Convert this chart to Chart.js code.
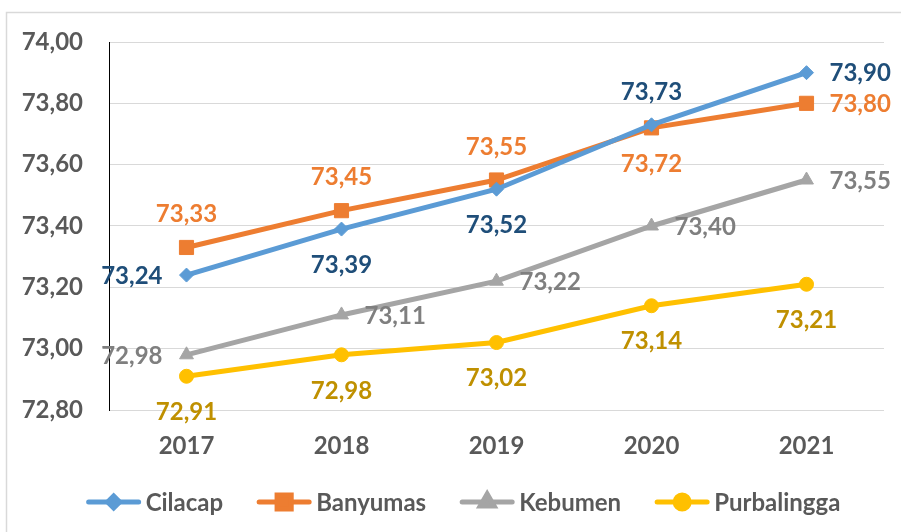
<!DOCTYPE html>
<html lang="en">
<head>
  <meta charset="UTF-8" />
  <title>Chart</title>
  <script src="https://cdn.jsdelivr.net/npm/chart.js@4.4.1/dist/chart.umd.min.js"></script>
  <style>
    body { margin: 0; background: #fff; }
    #wrap { width: 901px; height: 532px; position: relative; }
  </style>
</head>
<body>
  <div id="wrap"><canvas id="lineChart"></canvas></div>

  <script>
    const years = ['2017', '2018', '2019', '2020', '2021'];
    const cilacap = [73.24, 73.39, 73.52, 73.73, 73.90];
    const banyumas = [73.33, 73.45, 73.55, 73.72, 73.80];
    const kebumen = [72.98, 73.11, 73.22, 73.40, 73.55];
    const purbalingga = [72.91, 72.98, 73.02, 73.14, 73.21];
    const yMin = 72.8, yMax = 74.0, yStep = 0.2;

    // where each value label sits relative to its point
    const labelPos = [
      ['l', 'b', 'b', 't', 'r'],
      ['t', 't', 't', 'b', 'r'],
      ['l', 'r', 'r', 'r', 'r'],
      ['b', 'b', 'b', 'b', 'b']
    ];
    const labelColors = ['#1F4E79', '#ED7D31', '#7F7F7F', '#BF9000'];
    const legendRadius = [6, 10, 8, 7];

    const FONT = 'Lato, "Open Sans", sans-serif';
    const fmt = v => Number(v).toFixed(2).replace('.', ',');

    const frame = {
      id: 'frame',
      beforeDraw(chart) {
        const ctx = chart.ctx;
        ctx.save();
        ctx.strokeStyle = '#D9D9D9';
        ctx.lineWidth = 1.5;
        ctx.strokeRect(6.5, 12.5, 1000, 1000);
        ctx.restore();
      }
    };

    const valueLabels = {
      id: 'valueLabels',
      afterDatasetsDraw(chart) {
        const ctx = chart.ctx;
        ctx.save();
        chart.data.datasets.forEach((ds, di) => {
          const meta = chart.getDatasetMeta(di);
          ctx.fillStyle = labelColors[di];
          ctx.font = 'bold 24px ' + FONT;
          ctx.textBaseline = 'middle';
          meta.data.forEach((pt, i) => {
            const pos = labelPos[di][i];
            let x = pt.x, y = pt.y;
            if (pos === 't') { ctx.textAlign = 'center'; y -= 34; }
            if (pos === 'b') { ctx.textAlign = 'center'; y += 35; }
            if (pos === 'l') { ctx.textAlign = 'right'; x -= 24; }
            if (pos === 'r') { ctx.textAlign = 'left'; x += 23; }
            ctx.fillText(fmt(ds.data[i]), x, y + 1);
          });
        });
        ctx.restore();
      }
    };

    // legend drawn by hand: line + marker, then name
    const bottomLegend = {
      id: 'bottomLegend',
      afterDraw(chart) {
        const ctx = chart.ctx;
        const lineLen = 56, gapText = 4, gapItem = 33, cy = 502;
        ctx.save();
        ctx.font = 'bold 24px ' + FONT;
        ctx.textBaseline = 'middle';
        const items = chart.data.datasets.map(ds => ({ ds, w: ctx.measureText(ds.label).width }));
        const total = items.reduce((s, it) => s + lineLen + gapText + it.w, 0) + gapItem * (items.length - 1);
        let x = 463 - total / 2;
        items.forEach((it, k) => {
          const ds = it.ds;
          ctx.strokeStyle = ds.borderColor;
          ctx.lineWidth = 5;
          ctx.lineCap = 'round';
          ctx.beginPath();
          ctx.moveTo(x + 3, cy);
          ctx.lineTo(x + lineLen - 3, cy);
          ctx.stroke();
          ctx.fillStyle = ds.borderColor;
          Chart.helpers.drawPoint(ctx, {
            pointStyle: ds.pointStyle,
            radius: legendRadius[k],
            borderWidth: 1,
            rotation: 0
          }, x + lineLen / 2, cy);
          ctx.fillStyle = '#595959';
          ctx.textAlign = 'left';
          ctx.fillText(ds.label, x + lineLen + gapText, cy + 1);
          x += lineLen + gapText + it.w + gapItem;
        });
        ctx.restore();
      }
    };

    function series(label, data, color, style, radius) {
      return {
        label: label,
        data: data,
        borderColor: color,
        backgroundColor: color,
        borderWidth: 5,
        pointStyle: style,
        pointRadius: radius,
        pointHoverRadius: radius,
        pointBorderWidth: 1,
        pointBackgroundColor: color,
        pointBorderColor: color,
        tension: 0
      };
    }

    new Chart(document.getElementById('lineChart'), {
      type: 'line',
      data: {
        labels: years,
        datasets: [
          series('Cilacap', cilacap, '#5B9BD5', 'rectRot', 7),
          series('Banyumas', banyumas, '#ED7D31', 'rect', 10),
          series('Kebumen', kebumen, '#A5A5A5', 'triangle', 8),
          series('Purbalingga', purbalingga, '#FFC000', 'circle', 7)
        ]
      },
      options: {
        responsive: true,
        maintainAspectRatio: false,
        animation: false,
        layout: { padding: { top: 42, right: 17, left: 0, bottom: 0 } },
        plugins: {
          legend: { display: false },
          tooltip: { enabled: false }
        },
        scales: {
          x: {
            offset: true,
            grid: { display: false, drawTicks: false },
            border: { display: false },
            ticks: {
              color: '#595959',
              font: { family: FONT, size: 24, weight: 'bold' },
              padding: 22
            },
            afterFit(scale) { scale.height = 122; }
          },
          y: {
            min: yMin,
            max: yMax,
            grid: { color: '#D9D9D9', lineWidth: 1, drawTicks: false },
            border: { display: true, color: '#000000', width: 1 },
            ticks: {
              stepSize: yStep,
              color: '#595959',
              font: { family: FONT, size: 24, weight: 'bold' },
              padding: 26,
              callback: v => fmt(v)
            },
            afterFit(scale) { scale.width = 109; }
          }
        }
      },
      plugins: [frame, valueLabels, bottomLegend]
    });
  </script>
</body>
</html>
